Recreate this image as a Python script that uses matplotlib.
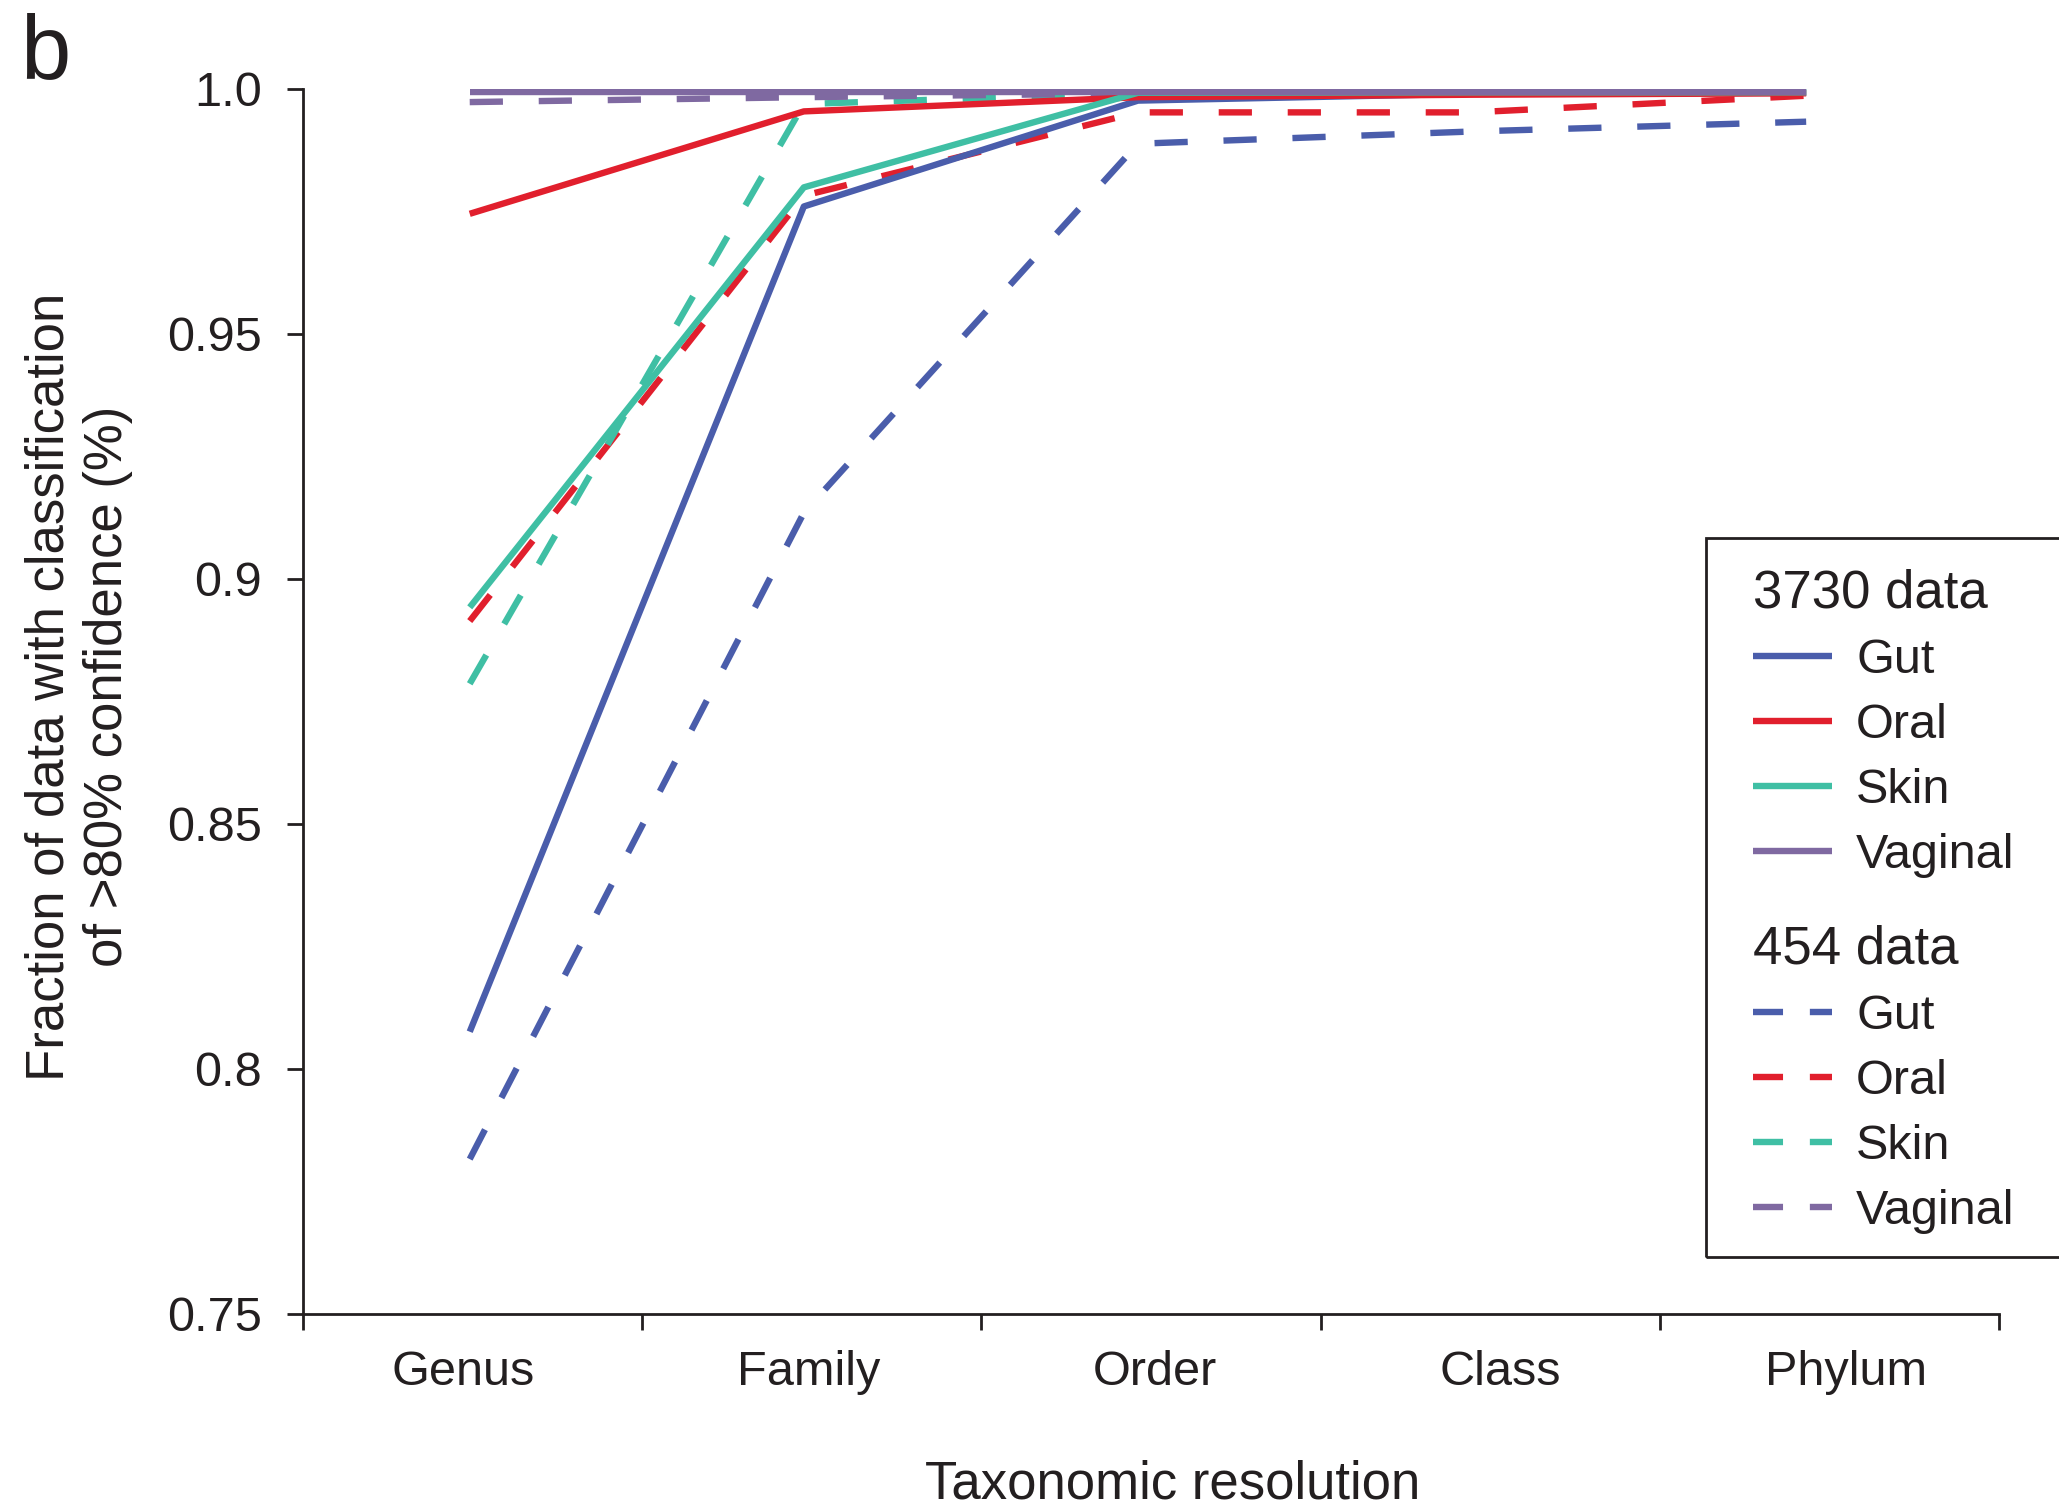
import numpy as np
import matplotlib.pyplot as plt
from matplotlib.patches import Rectangle
from matplotlib.lines import Line2D

plt.rcParams['font.family'] = ['Liberation Sans', 'DejaVu Sans']

ranks = ['Genus', 'Family', 'Order', 'Class', 'Phylum']
sites = ['Gut', 'Oral', 'Skin', 'Vaginal']
colors = ['#4a5dab', '#e11f2d', '#3fbfa4', '#7f69a1']

# fraction of reads classified with >80% confidence, 3730 (Sanger) data
gut_3730 = [0.8076, 0.9760, 0.9976, 0.9990, 0.9992]
oral_3730 = [0.9745, 0.9954, 0.9983, 0.9988, 0.9991]
skin_3730 = [0.8942, 0.9799, 0.9992, 0.9993, 0.9993]
vaginal_3730 = [0.9993, 0.9993, 0.9993, 0.9993, 0.9993]

# same for 454 data
gut_454 = [0.7816, 0.9135, 0.9888, 0.9913, 0.9933]
oral_454 = [0.8914, 0.9782, 0.9952, 0.9952, 0.9986]
skin_454 = [0.8786, 0.9969, 0.9992, 0.9993, 0.9993]
vaginal_454 = [0.9973, 0.9983, 0.9991, 0.9993, 0.9993]

ytick_vals = [0.75, 0.8, 0.85, 0.9, 0.95, 1.0]
ytick_labels = ['0.75', '0.8', '0.85', '0.9', '0.95', '1.0']

data_3730 = [gut_3730, oral_3730, skin_3730, vaginal_3730]
data_454 = [gut_454, oral_454, skin_454, vaginal_454]

lw = 4.6
dash = (0, (5.2, 5.6))

fig = plt.figure(figsize=(20.59, 15.06), dpi=100)
ax = fig.add_axes([0.147, 0.1275, 0.824, 0.8135])

x = np.arange(len(ranks))
for vals, c in zip(data_454, colors):
    ax.plot(x, vals, color=c, lw=lw, linestyle=dash, solid_capstyle='butt')
for vals, c in zip(data_3730, colors):
    ax.plot(x, vals, color=c, lw=lw, solid_capstyle='butt')

# category axis: points sit a bit tighter than the tick divisions
x0, x1 = -0.5, 4.578
ax.set_xlim(x0, x1)
ax.set_ylim(0.75, 1.0)

for s in ['top', 'right']:
    ax.spines[s].set_visible(False)
for s in ['left', 'bottom']:
    ax.spines[s].set_linewidth(2)
    ax.spines[s].set_color('#231f20')

ax.set_yticks(ytick_vals)
ax.set_yticklabels(ytick_labels)
ax.set_xticks(np.linspace(x0, x1, 6))
ax.set_xticklabels([])
ax.set_xticks(np.linspace(-0.021, 4.12, 5), minor=True)
ax.set_xticklabels(ranks, minor=True)
ax.tick_params(axis='both', which='major', direction='out', length=11.5, width=2,
               color='#231f20', labelsize=35, labelcolor='#231f20')
ax.tick_params(axis='y', pad=18)
ax.tick_params(axis='x', which='minor', length=0, pad=26, labelsize=35,
               labelcolor='#231f20')

ax.set_xlabel('Taxonomic resolution', fontsize=38, color='#231f20')
ax.xaxis.set_label_coords(0.513, -0.119)
ax.set_ylabel('Fraction of data with classification\nof >80% confidence (%)',
              fontsize=38, color='#231f20', va='center', multialignment='center')
ax.yaxis.set_label_coords(-0.132, 0.512)

fig.text(0.0097, 0.948, 'b', fontsize=65, color='#231f20', va='baseline')

# legend: box plus two titled groups
fig.patches.append(Rectangle((0.8285, 0.1653), 0.3, 0.4774, transform=fig.transFigure,
                             fill=False, lw=2, edgecolor='#231f20'))

solid_handles = [Line2D([], [], color=c, lw=lw, solid_capstyle='butt') for c in colors]
dashed_handles = [Line2D([], [], color=c, lw=lw, linestyle=(0, (4.7, 4.2)))
                  for c in colors]

common = dict(loc='upper left', frameon=False, fontsize=35, title_fontsize=38,
              handlelength=1.63, handletextpad=0.49, labelspacing=0.41,
              borderpad=0, borderaxespad=0, alignment='left', labelcolor='#231f20')
leg1 = fig.legend(solid_handles, sites, title='3730 data',
                  bbox_to_anchor=(0.8514, 0.6228), **common)
leg2 = fig.legend(dashed_handles, sites, title='454 data',
                  bbox_to_anchor=(0.8514, 0.3864), **common)
for leg in (leg1, leg2):
    leg.get_title().set_color('#231f20')

plt.savefig('out.png', dpi=100)
